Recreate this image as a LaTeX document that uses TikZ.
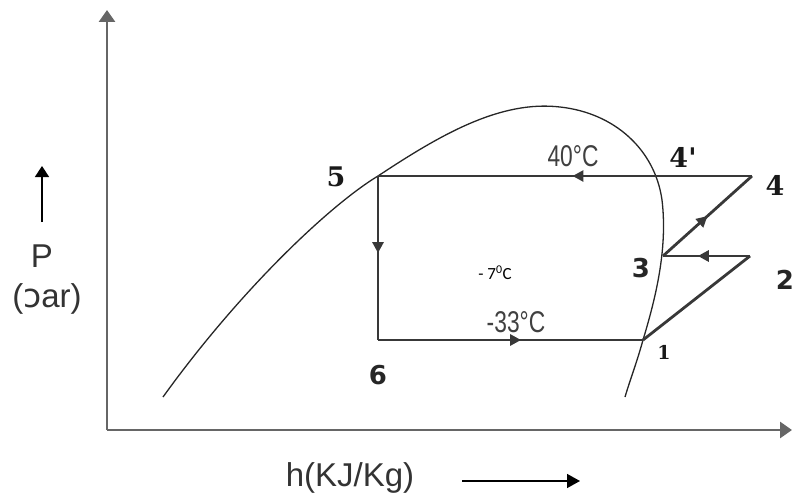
\documentclass[tikz,border=0pt]{standalone}
\usepackage{fontspec}
\setmainfont{Liberation Serif}
\setsansfont{Liberation Sans}
\newfontfamily\ipafont{DejaVu Sans}
\newfontfamily\numsansfont{DejaVu Sans}
\newfontfamily\numseriffont{DejaVu Serif}
\newfontfamily\smallfont{Carlito}
\usetikzlibrary{arrows.meta,decorations.markings}
\tikzset{
  axisline/.style={draw=black!60, line width=2.8pt, -{Triangle[length=12pt,width=16pt]}},
  cycleline/.style={draw=black!78, line width=2.8pt},
  domeline/.style={draw=black!85, line width=1.3pt},
  midarrow/.style={postaction={decorate}, decoration={markings,
      mark=at position #1 with {\arrow{Triangle[length=11pt,width=11pt]}}}},
  numlbl/.style={font=\numseriffont\fontsize{27}{30}\selectfont\bfseries, inner sep=0pt, text=black!90},
  numsans/.style={font=\numsansfont\fontsize{26}{30}\selectfont\bfseries, inner sep=0pt, text=black!85},
  templbl/.style={font=\sffamily\fontsize{24}{26}\selectfont, inner sep=0pt, text=black!75},
  axislbl/.style={font=\sffamily\fontsize{33}{36}\selectfont, inner sep=0pt, text=black!80},
}
\begin{document}
\begin{tikzpicture}[x=1pt,y=-1pt]
\useasboundingbox (0,0) rectangle (794,500);
% axes
\coordinate (O) at (107,430);
\coordinate (ytop) at (107,10);
\coordinate (xend) at (792,430);
\draw[axisline] (O) -- (ytop);
\draw[axisline] (O) -- (xend);
% cycle points
\coordinate (p5) at (378,176);
\coordinate (p4) at (752,176);
\coordinate (p6) at (378,340);
\coordinate (p1) at (643,340);
\coordinate (p2) at (750,256);
\coordinate (p3) at (663,256);
% saturation dome
\draw[domeline] (163,397) .. controls (240,290) and (330,205) .. (p5)
  .. controls (440,135) and (500,100) .. (560,107)
  .. controls (615,113) and (655,150) .. (662,200)
  .. controls (668,250) and (655,300) .. (p1)
  .. controls (636,365) and (630,380) .. (625,397);
% cycle
\draw[cycleline, midarrow=0.48] (p4) -- (p5);
\draw[cycleline, midarrow=0.47] (p5) -- (p6);
\draw[cycleline, midarrow=0.54] (p6) -- (p1);
\draw[cycleline] (p1) -- (p2);
\draw[cycleline, midarrow=0.6] (p2) -- (p3);
\draw[cycleline, midarrow=0.5] (p3) -- (p4);
% point labels
\node[numlbl] (l5) at (336,177) {5};
\node[numlbl] (l4p) at (683,157) {4'};
\node[numlbl] (l4) at (775,185) {4};
\node[numsans] (l3) at (641,268) {3};
\node[numsans] (l2) at (785,280) {2};
\node[numlbl, font=\numseriffont\fontsize{19}{21}\selectfont\bfseries] (l1) at (664,352) {1};
\node[numsans] (l6) at (378,375) {6};
% temperatures
\node[templbl] (t40) at (573,156) {\scalebox{0.95}[1.25]{40\textdegree C}};
\node[templbl] (t33) at (516,322) {\scalebox{0.95}[1.25]{-33\textdegree C}};
\node[font=\smallfont\fontsize{17}{19}\selectfont, inner sep=0pt] (t7) at (495,273) {- 7\textsuperscript{0}C};
% axis labels
\coordinate (pa) at (42,222);
\coordinate (pb) at (42,166);
\draw[line width=1.6pt, -{Triangle[length=11pt,width=14pt]}] (pa) -- (pb);
\node[axislbl] (P) at (42,256) {P};
\node[axislbl] (bar) at (47,299) {(\ipafont ɔ\sffamily ar)};
\node[axislbl] (h) at (350,478) {h(KJ/Kg)};
\coordinate (ha) at (462,481);
\coordinate (hb) at (580,481);
\draw[line width=1.6pt, -{Triangle[length=13pt,width=14pt]}] (ha) -- (hb);
\end{tikzpicture}
\end{document}
